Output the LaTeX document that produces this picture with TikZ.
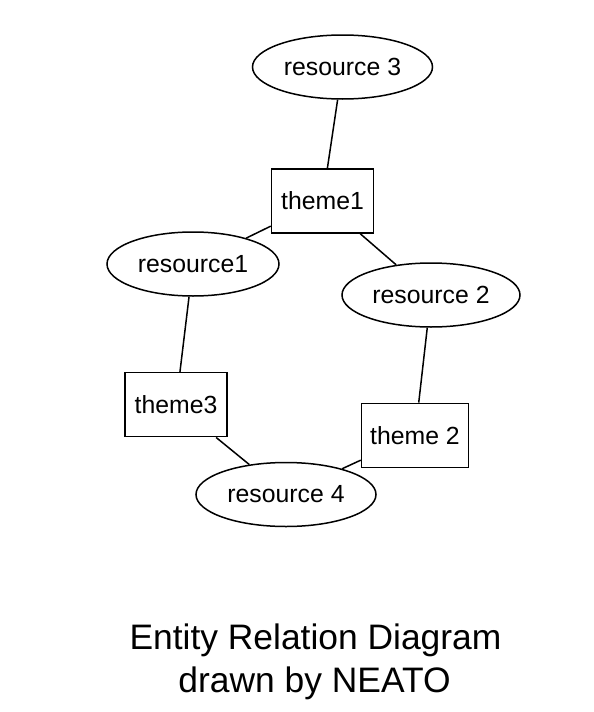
\documentclass[tikz,border=0pt]{standalone}
\usepackage{fontspec}
\setmainfont{Liberation Sans}
\usetikzlibrary{shapes.geometric}
\begin{document}
\begin{tikzpicture}[x=1pt,y=-1pt,
  every node/.style={font=\fontsize{24.8}{29}\selectfont},
  ent/.style={draw,line width=1.5pt,ellipse,inner sep=0pt,minimum height=64pt},
  thm/.style={draw,line width=1.5pt,rectangle,inner sep=0pt,minimum height=64pt},
  link/.style={line width=1.5pt},
  ttl/.style={font=\fontsize{35.4}{42}\selectfont,anchor=base,inner sep=0pt}]
\useasboundingbox (0,0) rectangle (594,712);
\node[ent,minimum width=180pt] (r3) at (342.5,67) {resource 3};
\node[thm,minimum width=102pt] (t1) at (322.5,201) {theme1};
\node[ent,minimum width=172pt] (r1) at (193,264) {resource1};
\node[ent,minimum width=178pt] (r2) at (431,295) {resource 2};
\node[thm,minimum width=102pt] (t3) at (176,404.7) {theme3};
\node[thm,minimum width=107pt] (t2) at (415,435.3) {theme 2};
\node[ent,minimum width=180pt] (r4) at (286,494.5) {resource 4};
\draw[link] (r3) -- (t1);
\draw[link] (t1) -- (r1);
\draw[link] (t1) -- (r2);
\draw[link] (r1) -- (t3);
\draw[link] (r2) -- (t2);
\draw[link] (t3) -- (r4);
\draw[link] (t2) -- (r4);
\node[ttl] (title1) at (315.5,649.5) {Entity Relation Diagram};
\node[ttl] (title2) at (314.5,692.5) {drawn by NEATO};
\end{tikzpicture}
\end{document}
